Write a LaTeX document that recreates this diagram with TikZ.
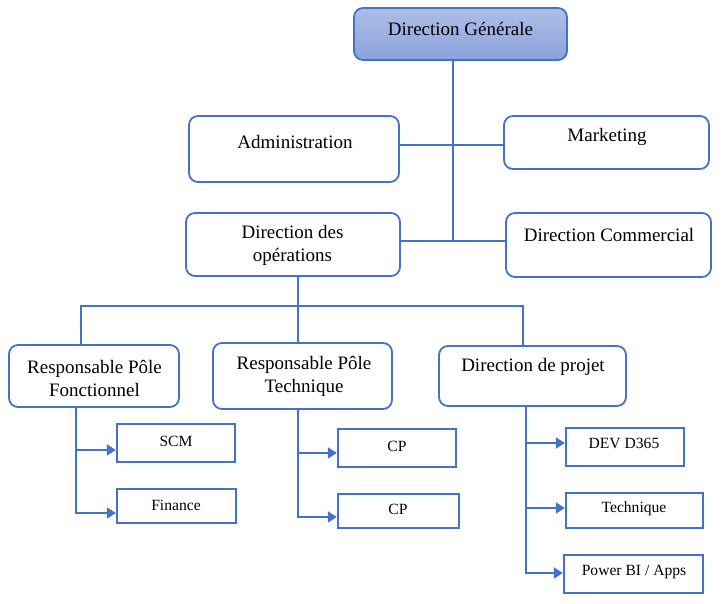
\documentclass[tikz,border=0pt]{standalone}
\usepackage{fontspec}
\setmainfont{Liberation Serif}
\usetikzlibrary{arrows.meta}
\definecolor{ob}{HTML}{4472C4}
\definecolor{dgtop}{HTML}{AEBDE6}
\definecolor{dgbot}{HTML}{8BA3DB}
\tikzset{
  rbox/.style={draw=ob, line width=1.8pt, rounded corners=9pt, inner sep=0pt},
  sbox/.style={draw=ob, line width=2.3pt, inner sep=0pt},
  big/.style={font=\fontsize{19}{23}\selectfont, align=center, inner sep=0pt},
  small/.style={font=\fontsize{15.6}{19}\selectfont, align=center, inner sep=0pt},
  conn/.style={draw=ob, line width=2pt},
  arr/.style={draw=ob, line width=2pt, -{Triangle[length=9pt,width=11pt]}, fill=ob}
}
\begin{document}
\begin{tikzpicture}[x=1pt,y=-1pt]
\useasboundingbox (0,0) rectangle (726,603);
% boxes
\node[rbox, top color=dgtop, bottom color=dgbot, minimum width=213pt, minimum height=52pt] (dg) at (460.5,34) {};
\node[rbox, minimum width=210pt, minimum height=66pt] (adm) at (294,149) {};
\node[rbox, minimum width=205pt, minimum height=53pt] (mk) at (606.5,142.5) {};
\node[rbox, minimum width=214pt, minimum height=63pt] (ops) at (293,244.5) {};
\node[rbox, minimum width=205pt, minimum height=64pt] (dc) at (608.5,245) {};
\node[rbox, minimum width=170pt, minimum height=62pt] (rpf) at (94,376) {};
\node[rbox, minimum width=179pt, minimum height=66pt] (rpt) at (302.5,376) {};
\node[rbox, minimum width=187pt, minimum height=60pt] (dp) at (532.5,376) {};
\node[sbox, minimum width=118pt, minimum height=38pt] (scm) at (176,443) {};
\node[sbox, minimum width=119pt, minimum height=34pt] (fin) at (176.5,506) {};
\node[sbox, minimum width=118pt, minimum height=38pt] (cpa) at (397,448) {};
\node[sbox, minimum width=121pt, minimum height=34pt] (cpb) at (398.5,511) {};
\node[sbox, minimum width=118pt, minimum height=38pt] (dev) at (625,447) {};
\node[sbox, minimum width=137pt, minimum height=35pt] (tec) at (634.5,510.5) {};
\node[sbox, minimum width=139pt, minimum height=38pt] (pbi) at (633.5,574) {};
% texts
\node[big] (tdg) at (460.5,29) {Direction Générale};
\node[big] (tadm) at (295,142) {Administration};
\node[big] (tmk) at (607,137) {Marketing};
\node[big] (tops) at (292.5,245.5) {Direction des\\opérations};
\node[big] (tdc) at (609,235) {Direction Commercial};
\node[big] (trpf) at (94.5,378) {Responsable Pôle\\Fonctionnel};
\node[big] (trpt) at (304,376.5) {Responsable Pôle\\Technique};
\node[big] (tdp) at (533,367) {Direction de projet};
\node[small] (tscm) at (176,441) {SCM};
\node[small] (tfin) at (176,505) {Finance};
\node[small] (tcpa) at (397,446) {CP};
\node[small] (tcpb) at (398,509) {CP};
\node[small] (tdev) at (624,443) {DEV D365};
\node[small] (ttec) at (634,509) {Technique};
\node[small] (tpbi) at (634,572) {Power BI / Apps};
% junctions
\coordinate (j1) at (453,145);
\coordinate (j2) at (453,241);
\coordinate (j3) at (298,306);
\coordinate (bl) at (81,306);
\coordinate (br) at (523,306);
\coordinate (lx) at (76,0);
\coordinate (mx) at (298,0);
\coordinate (rx) at (526,0);
\coordinate (a1) at (scm.west |- 0,450);
\coordinate (a2) at (fin.west |- 0,513);
\coordinate (a3) at (cpa.west |- 0,453);
\coordinate (a4) at (cpb.west |- 0,517);
\coordinate (a5) at (dev.west |- 0,443);
\coordinate (a6) at (tec.west |- 0,508);
\coordinate (a7) at (pbi.west |- 0,573);
% top connectors
\draw[conn] (dg.south -| j1) -- (j2);
\draw[conn] (adm.east |- j1) -- (mk.west |- j1);
\draw[conn] (ops.east |- j2) -- (dc.west |- j2);
\draw[conn] (ops.south -| j3) -- (j3);
\draw[conn] (rpf.north -| bl) -- (bl) -- (br) -- (dp.north -| br);
\draw[conn] (j3) -- (rpt.north -| j3);
% lower connectors
\draw[conn] (lx |- rpf.south) -- ([yshift=-1pt]lx |- a2);
\draw[arr] (lx |- a1) -- (a1);
\draw[arr] (lx |- a2) -- (a2);
\draw[conn] (mx |- rpt.south) -- ([yshift=-1pt]mx |- a4);
\draw[arr] (mx |- a3) -- (a3);
\draw[arr] (mx |- a4) -- (a4);
\draw[conn] (rx |- dp.south) -- ([yshift=-1pt]rx |- a7);
\draw[arr] (rx |- a5) -- (a5);
\draw[arr] (rx |- a6) -- (a6);
\draw[arr] (rx |- a7) -- (a7);
\end{tikzpicture}
\end{document}
